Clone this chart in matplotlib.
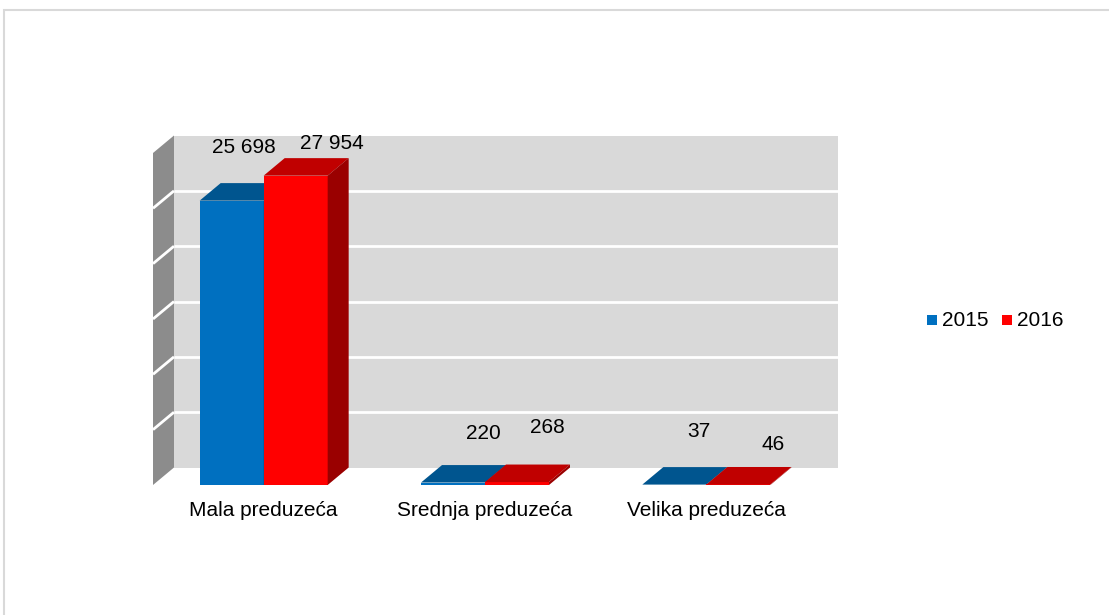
import matplotlib
matplotlib.use("Agg")
import matplotlib.pyplot as plt
from matplotlib.patches import Polygon, Rectangle

# ---- data ----
categories = ["Mala preduzeća", "Srednja preduzeća", "Velika preduzeća"]
series_names = ["2015", "2016"]
values_2015 = [25698, 220, 37]
values_2016 = [27954, 268, 46]
y_max = 30000
y_step = 5000

plt.rcParams['font.family'] = ['Liberation Sans', 'DejaVu Sans']

# ---- styles ----
front_colors = ["#0070c0", "#ff0000"]
top_colors = ["#00558f", "#c00000"]
side_colors = ["#004a80", "#9a0000"]
wall_back = "#d9d9d9"
wall_side = "#8c8c8c"
FS = 15

W, H = 1109, 615
fig = plt.figure(figsize=(W / 100, H / 100), dpi=100)
ax = fig.add_axes([0, 0, 1, 1])
ax.set_axis_off()

# pixel geometry of the plot area
plot_left_px, plot_right_px = 153, 817
base_px, top_px = 485, 153
sx = (plot_right_px - plot_left_px) / len(categories)
sy = (base_px - top_px) / y_max
ax.set_xlim(-plot_left_px / sx, (W - plot_left_px) / sx)
ax.set_ylim(-(H - base_px) / sy, base_px / sy)
dx = 21 / sx
dy = 17.5 / sy
ncat = len(categories)

# back wall
ax.add_patch(Rectangle((dx, dy), ncat, y_max, facecolor=wall_back, edgecolor='none', zorder=1))
# side wall
ax.add_patch(Polygon([(0, 0), (dx, dy), (dx, y_max + dy), (0, y_max)],
                     closed=True, facecolor=wall_side, edgecolor='none', zorder=1))
# gridlines
for k in range(1, int(y_max / y_step)):
    v = k * y_step
    ax.plot([dx, ncat + dx], [v + dy, v + dy], color='white', lw=2, zorder=2,
            solid_capstyle='butt')
    ax.plot([0, dx], [v, v + dy], color='white', lw=2, zorder=2, solid_capstyle='butt')

# bars
bar_w = 64 / sx
series = [values_2015, values_2016]
for i in range(ncat):
    c = i + 0.5
    for s, vals in enumerate(series):
        v = vals[i]
        x0 = c - bar_w + s * bar_w
        z = 3 + s
        ax.add_patch(Rectangle((x0, 0), bar_w, v, facecolor=front_colors[s],
                               edgecolor='none', zorder=z))
        ax.add_patch(Polygon([(x0, v), (x0 + bar_w, v), (x0 + bar_w + dx, v + dy), (x0 + dx, v + dy)],
                             closed=True, facecolor=top_colors[s], edgecolor='none', zorder=z))
        ax.add_patch(Polygon([(x0 + bar_w, 0), (x0 + bar_w + dx, dy), (x0 + bar_w + dx, v + dy), (x0 + bar_w, v)],
                             closed=True, facecolor=side_colors[s], edgecolor='none', zorder=z))

# data labels (offsets in pixels from bar front-top centre)
label_offsets = [
    [(12, 53), (30, 49), (25, 53)],
    [(36, 32), (30, 55), (35, 40)],
]
for s, vals in enumerate(series):
    for i, v in enumerate(vals):
        x0 = i + 0.5 - bar_w + s * bar_w
        ox, oy = label_offsets[s][i]
        ax.annotate(f"{v:,}".replace(",", " "), xy=(x0 + bar_w / 2, v),
                    xytext=(ox, oy), textcoords='offset pixels',
                    ha='center', va='center', fontsize=FS, color='black', zorder=10)

# category labels
for i, cat in enumerate(categories):
    ax.annotate(cat, xy=(i + 0.5, 0), xytext=(0, -25), textcoords='offset pixels',
                ha='center', va='center', fontsize=FS, color='black')

# legend (manual)
def fx(px):
    return px / W

def fy(py):
    return 1 - py / H

leg_items = [(927, 942), (1002, 1017)]
for s, name in enumerate(series_names):
    sq_x, tx = leg_items[s]
    fig.patches.append(Rectangle((fx(sq_x), fy(325)), 10 / W, 10 / H,
                                 transform=fig.transFigure, facecolor=front_colors[s],
                                 edgecolor='none'))
    fig.text(fx(tx), fy(320), name, ha='left', va='center', fontsize=FS, color='black')

# outer border
fig.patches.append(Rectangle((fx(3.5), fy(700)), (1200) / W, (700 - 9.5) / H,
                             transform=fig.transFigure, facecolor='none',
                             edgecolor='#d9d9d9', lw=1.5))

fig.savefig("out.png", dpi=100)
